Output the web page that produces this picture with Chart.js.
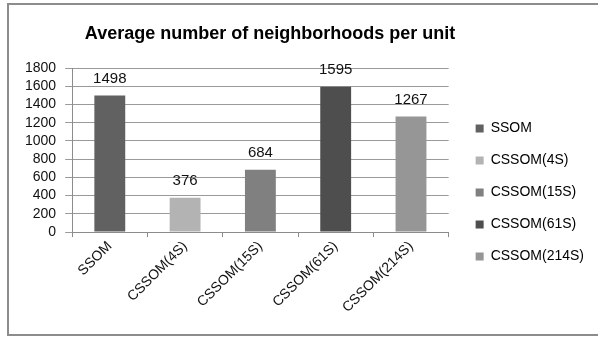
<!DOCTYPE html>
<html>
<head>
<meta charset="utf-8">
<script src="https://cdn.jsdelivr.net/npm/chart.js@4.4.0/dist/chart.umd.min.js"></script>
<style>
  html, body { margin: 0; padding: 0; background: #fff; }
  #wrap { width: 598px; height: 338px; position: relative; }
</style>
</head>
<body>
<div id="wrap"><canvas id="neighChart" width="598" height="338"></canvas></div>
<script>
// data
const categories = ["SSOM", "CSSOM(4S)", "CSSOM(15S)", "CSSOM(61S)", "CSSOM(214S)"];
const avgNeighborhoods = [1498, 376, 684, 1595, 1267];
const barColors = ["#616161", "#b3b3b3", "#808080", "#4e4e4e", "#969696"];
const yTicks = [0, 200, 400, 600, 800, 1000, 1200, 1400, 1600, 1800];
const chartTitle = "Average number of neighborhoods per unit";

const FONT = "'Liberation Sans', Arial, sans-serif";

// white background + grey frame like the office export
const framePlugin = {
  id: "frame",
  beforeDraw(chart) {
    const ctx = chart.ctx;
    ctx.save();
    ctx.fillStyle = "#fff";
    ctx.fillRect(0, 0, chart.width, chart.height);
    ctx.strokeStyle = "#8c8c8c";
    ctx.lineWidth = 2;
    ctx.strokeRect(8, 4, 600, 331);
    ctx.restore();
  },
};

// title sits left of centre (centred over plot + legend, not the canvas)
const titlePlugin = {
  id: "sideTitle",
  afterDraw(chart) {
    const ctx = chart.ctx;
    ctx.save();
    ctx.font = "bold 18px " + FONT;
    ctx.fillStyle = "#000";
    ctx.textAlign = "center";
    ctx.textBaseline = "middle";
    ctx.fillText(chartTitle, 270, 34);
    ctx.restore();
  },
};

// numbers above each bar
const valueLabels = {
  id: "valueLabels",
  afterDatasetsDraw(chart) {
    const ctx = chart.ctx;
    const meta = chart.getDatasetMeta(0);
    ctx.save();
    ctx.font = "15px " + FONT;
    ctx.fillStyle = "#111";
    ctx.textAlign = "center";
    ctx.textBaseline = "bottom";
    meta.data.forEach((bar, i) => {
      ctx.fillText(String(avgNeighborhoods[i]), bar.x, bar.y - 9);
    });
    ctx.restore();
  },
};

// nudge legend a little away from the plot
const legendShift = {
  id: "legendShift",
  afterLayout(chart) {
    if (chart.legend) {
      chart.legend.left += 9;
      chart.legend.right += 9;
    }
  },
};

const ctx = document.getElementById("neighChart").getContext("2d");
new Chart(ctx, {
  type: "bar",
  data: {
    labels: categories,
    datasets: [
      {
        label: "Average number of neighborhoods",
        data: avgNeighborhoods,
        backgroundColor: barColors,
        borderWidth: 0,
        barPercentage: 0.82,
        categoryPercentage: 0.5,
      },
    ],
  },
  options: {
    responsive: false,
    animation: false,
    layout: { padding: { top: 68, left: 16, right: 13, bottom: 21 } },
    plugins: {
      title: { display: false },
      tooltip: { enabled: false },
      legend: {
        position: "right",
        labels: {
          boxWidth: 8,
          boxHeight: 8,
          padding: 18,
          color: "#111",
          font: { family: FONT, size: 14 },
          generateLabels: (chart) =>
            categories.map((c, i) => ({
              text: c,
              fillStyle: barColors[i],
              strokeStyle: barColors[i],
              lineWidth: 0,
              index: i,
            })),
        },
      },
    },
    scales: {
      x: {
        grid: {
          offset: true,
          drawOnChartArea: false,
          drawTicks: true,
          tickLength: 5,
          color: "#8c8c8c",
        },
        border: { display: true, color: "#8c8c8c" },
        ticks: {
          minRotation: 45,
          maxRotation: 45,
          padding: 1,
          color: "#111",
          font: { family: FONT, size: 14 },
        },
      },
      y: {
        min: 0,
        max: 1800,
        afterBuildTicks: (scale) => {
          scale.ticks = yTicks.map((v) => ({ value: v }));
        },
        grid: { color: "#9a9a9a", tickLength: 7 },
        border: { display: true, color: "#8c8c8c" },
        ticks: {
          autoSkip: false,
          padding: 9,
          color: "#111",
          font: { family: FONT, size: 14 },
          callback: (v) => String(v),
        },
      },
    },
  },
  plugins: [framePlugin, titlePlugin, valueLabels, legendShift],
});
</script>
</body>
</html>
